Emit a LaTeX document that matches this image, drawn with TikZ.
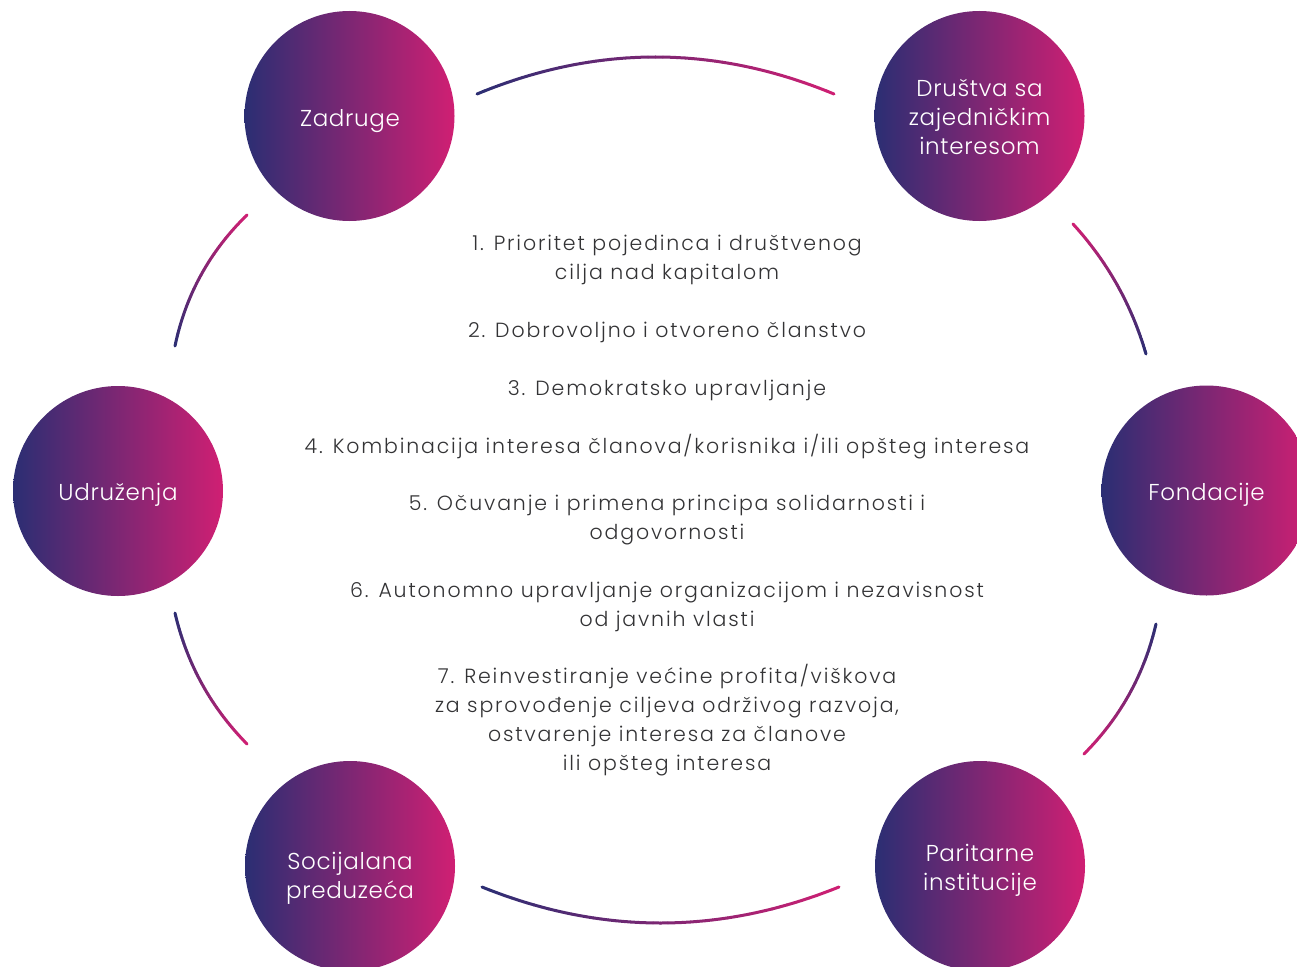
\documentclass[tikz,border=0pt]{standalone}
\usepackage{fontspec}
\setmainfont{Poppins Light}
\newfontfamily\ctfont{Poppins Light}[LetterSpace=9]
\newfontfamily\btfont{Poppins Light}[LetterSpace=3]
\definecolor{cnavy}{HTML}{2B2E73}
\definecolor{cmag}{HTML}{D01F73}
\definecolor{ctxt}{HTML}{333335}
\newcommand\gradarc[6]{%
  \foreach \i in {1,...,48}{%
    \pgfmathsetmacro\ta{(\i-1)/48}%
    \pgfmathsetmacro\tb{\i/48}%
    \pgfmathtruncatemacro\pc{100*(\i-0.5)/48}%
    \pgfmathsetmacro\xa{(1-\ta)^2*#1+2*\ta*(1-\ta)*#3+\ta^2*#5}%
    \pgfmathsetmacro\ya{(1-\ta)^2*#2+2*\ta*(1-\ta)*#4+\ta^2*#6}%
    \pgfmathsetmacro\xb{(1-\tb)^2*#1+2*\tb*(1-\tb)*#3+\tb^2*#5}%
    \pgfmathsetmacro\yb{(1-\tb)^2*#2+2*\tb*(1-\tb)*#4+\tb^2*#6}%
    \draw[arcline, draw=cmag!\pc!cnavy] (\xa,\ya) -- (\xb,\yb);
  }}
\begin{document}
\begin{tikzpicture}[x=1pt,y=-1pt,
  bubble/.style={circle, inner sep=0pt, minimum size=210pt, left color=cnavy, right color=cmag, shading angle=90},
  btext/.style={text=white, align=center, font=\btfont\fontsize{23}{29}\selectfont},
  ctext/.style={text=ctxt, anchor=base, font=\ctfont\fontsize{20.5}{29}\selectfont},
  arcline/.style={line width=3pt, line cap=round}]
\useasboundingbox (0,0) rectangle (1297,966);
\clip (0,0) rectangle (1297,966);
% circles
\node[bubble] (zad) at (349.5,116) {};
\node[bubble] (dru) at (979.5,116) {};
\node[bubble] (udr) at (118,491) {};
\node[bubble] (fon) at (1206.5,490.5) {};
\node[bubble] (soc) at (350,866) {};
\node[bubble] (par) at (980,866) {};
% circle labels
\node[btext] (tzad) at (350,121) {Zadruge};
\node[btext] (tdru) at (979.5,117) {Društva sa\\zajedničkim\\interesom};
\node[btext] (tudr) at (118,495) {Udruženja};
\node[btext] (tfon) at (1206.5,495) {Fondacije};
\node[btext] (tsoc) at (350,878) {Socijalana\\preduzeća};
\node[btext] (tpar) at (980,870) {Paritarne\\institucije};
% arcs
\gradarc{477}{94}{655.5}{20}{834}{94}
\gradarc{482}{887}{660.5}{959}{839}{887}
\gradarc{175}{346}{191}{269.5}{247}{215}
\gradarc{1146}{354}{1124.6}{280.4}{1073}{224}
\gradarc{175}{613}{192.6}{688.7}{247}{744}
\gradarc{1156}{624}{1138.6}{699.2}{1084}{754}
% central text
\node[ctext] (l1) at (667,250) {1. Prioritet pojedinca i društvenog};
\node[ctext] (l2) at (667,279) {cilja nad kapitalom};
\node[ctext] (l3) at (667,337) {2. Dobrovoljno i otvoreno članstvo};
\node[ctext] (l4) at (667,395) {3. Demokratsko upravljanje};
\node[ctext] (l5) at (667,453) {4. Kombinacija interesa članova/korisnika i/ili opšteg interesa};
\node[ctext] (l6) at (667,510) {5. Očuvanje i primena principa solidarnosti i};
\node[ctext] (l7) at (667,539) {odgovornosti};
\node[ctext] (l8) at (667,597) {6. Autonomno upravljanje organizacijom i nezavisnost};
\node[ctext] (l9) at (667,626) {od javnih vlasti};
\node[ctext] (l10) at (667,683) {7. Reinvestiranje većine profita/viškova};
\node[ctext] (l11) at (667,712) {za sprovođenje ciljeva održivog razvoja,};
\node[ctext] (l12) at (667,741) {ostvarenje interesa za članove};
\node[ctext] (l13) at (667,770) {ili opšteg interesa};
\end{tikzpicture}
\end{document}
